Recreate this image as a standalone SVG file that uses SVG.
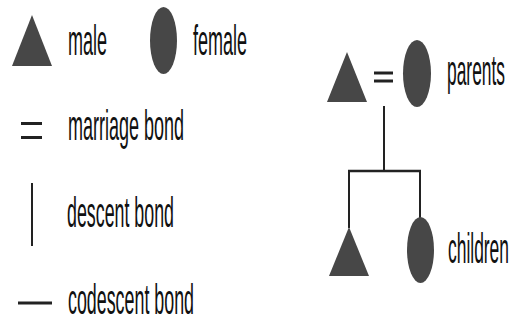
<svg xmlns="http://www.w3.org/2000/svg" width="515" height="320" viewBox="0 0 515 320">
  <style>
    .sym { fill: #474747; }
    .ln { stroke: #222; fill: none; }
    .lbl { font-family: "Liberation Sans", Arial, sans-serif; font-size: 42px; fill: #111; }
  </style>
  <rect width="515" height="320" fill="#fff"/>
  <g id="legend-male">
    <polygon class="sym" points="32,15 12,66 52,66"/>
    <text class="lbl" x="68" y="55" textLength="39" lengthAdjust="spacingAndGlyphs">male</text>
  </g>
  <g id="legend-female">
    <ellipse class="sym" cx="163.5" cy="40.5" rx="13.5" ry="33.5"/>
    <text class="lbl" x="193" y="55" textLength="54" lengthAdjust="spacingAndGlyphs">female</text>
  </g>
  <g id="legend-marriage">
    <line class="ln" x1="21" y1="123.5" x2="42" y2="123.5" stroke-width="3"/>
    <line class="ln" x1="21" y1="137.5" x2="42" y2="137.5" stroke-width="3"/>
    <text class="lbl" x="68" y="140" textLength="116" lengthAdjust="spacingAndGlyphs">marriage bond</text>
  </g>
  <g id="legend-descent">
    <line class="ln" x1="32" y1="183" x2="32" y2="246" stroke-width="2"/>
    <text class="lbl" x="67" y="227" textLength="107" lengthAdjust="spacingAndGlyphs">descent bond</text>
  </g>
  <g id="legend-codescent">
    <line class="ln" x1="18" y1="303" x2="52" y2="303" stroke-width="3"/>
    <text class="lbl" x="68" y="314" textLength="126" lengthAdjust="spacingAndGlyphs">codescent bond</text>
  </g>
  <g id="connectors">
    <line class="ln" x1="374" y1="73" x2="393" y2="73" stroke-width="3"/>
    <line class="ln" x1="374" y1="81" x2="393" y2="81" stroke-width="3"/>
    <line class="ln" x1="384" y1="106" x2="384" y2="171" stroke-width="2"/>
    <line class="ln" x1="348" y1="171" x2="421" y2="171" stroke-width="2.5"/>
    <line class="ln" x1="349" y1="171" x2="349" y2="228" stroke-width="2"/>
    <line class="ln" x1="420" y1="171" x2="420" y2="218" stroke-width="2"/>
  </g>
  <g id="parent-male">
    <polygon class="sym" points="347,52 327,102 367,102"/>
  </g>
  <g id="parent-female">
    <ellipse class="sym" cx="417" cy="73.5" rx="14" ry="33.5"/>
    <text class="lbl" x="447" y="85" textLength="58" lengthAdjust="spacingAndGlyphs">parents</text>
  </g>
  <g id="child-male">
    <polygon class="sym" points="349,227 329,276 369,276"/>
  </g>
  <g id="child-female">
    <ellipse class="sym" cx="420.5" cy="250" rx="13.5" ry="33"/>
    <text class="lbl" x="448" y="263" textLength="61" lengthAdjust="spacingAndGlyphs">children</text>
  </g>
</svg>
